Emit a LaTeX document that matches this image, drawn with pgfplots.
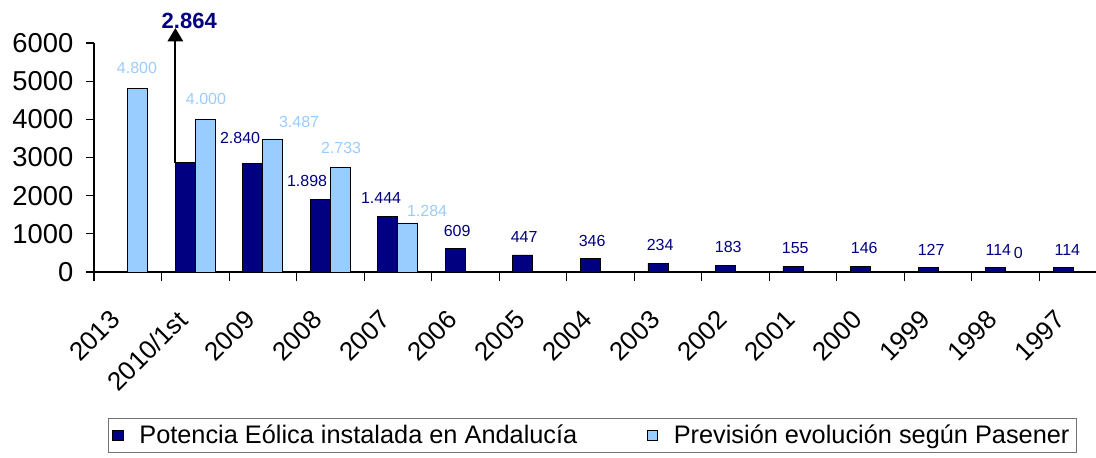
\documentclass[border=0pt]{standalone}
\usepackage{fontspec}
\setmainfont{Liberation Sans}
\usepackage{pgfplots}
\pgfplotsset{compat=1.18}
\usetikzlibrary{arrows.meta}
\definecolor{darkbar}{HTML}{000080}
\definecolor{lightbar}{HTML}{99CCFF}
\begin{document}
\begin{tikzpicture}
\useasboundingbox (-70.5pt,-138.75pt) rectangle (751.5pt,204pt);
\begin{axis}[
  at={(0pt,0pt)}, anchor=south west,
  scale only axis, width=751.5pt, height=171.75pt,
  xmin=-0.5, xmax=14.34, ymin=0, ymax=6000,
  clip=false,
  axis x line=bottom, axis y line=left,
  axis line style={-, line width=0.8pt},
  ybar=0pt, bar width=15pt,
  xtick={0,...,14},
  xticklabels={2013,2010/1st,2009,2008,2007,2006,2005,2004,2003,2002,2001,2000,1999,1998,1997},
  minor xtick={-0.5,0.5,...,13.5},
  ytick={0,1000,2000,3000,4000,5000,6000},
  scaled y ticks=false,
  tick align=outside,
  major tick length=6pt, minor tick length=6.75pt,
  every tick/.style={black, line width=0.8pt},
  major x tick style={draw=none},
  /pgf/number format/assume math mode=true,
  /pgf/number format/1000 sep={},
  yticklabel style={font=\fontsize{20.5}{21}\selectfont, xshift=-6pt},
  xticklabel style={font=\fontsize{19.5}{20}\selectfont, xshift=-7pt, yshift=-24pt, rotate=45, anchor=east},
  legend columns=2,
  legend style={at={(0.014,-0.6376)}, anchor=north west, draw=black!55,
    font=\fontsize{19}{21}\selectfont, inner sep=3pt,
    /tikz/every even column/.append style={column sep=50pt}},
  legend cell align=left,
  legend image code/.code={\draw[#1, draw=black, line width=0.6pt] (0pt,-4pt) rectangle (8pt,4pt); \path[draw=none, fill=none] (0pt,0pt) rectangle (18pt,0pt);},
]
\addplot[fill=darkbar, draw=black, line width=0.6pt] coordinates {
  (1,2864) (2,2840) (3,1898) (4,1444) (5,609) (6,447) (7,346) (8,234)
  (9,183) (10,155) (11,146) (12,127) (13,114) (14,114)};
\addplot[fill=lightbar, draw=black, line width=0.6pt] coordinates {
  (0,4800) (1,4000) (2,3487) (3,2733) (4,1284)};
\legend{Potencia Eólica instalada en Andalucía, Previsión evolución según Pasener}

\begin{scope}[every node/.style={font=\fontsize{12}{13}\selectfont, inner sep=0pt}]
\node[text=lightbar] at (axis cs:0.137,5345) {4.800};
\node[text=lightbar] at (axis cs:1.159,4533) {4.000};
\node[text=lightbar] at (axis cs:2.537,3930) {3.487};
\node[text=lightbar] at (axis cs:3.159,3249) {2.733};
\node[text=lightbar] at (axis cs:4.433,1598) {1.284};
\node[text=darkbar] at (axis cs:13.189,498) {0};
\node[text=darkbar] at (axis cs:1.663,3511) {2.840};
\node[text=darkbar] at (axis cs:2.656,2384) {1.898};
\node[text=darkbar] at (axis cs:3.752,1939) {1.444};
\node[text=darkbar] at (axis cs:4.878,1074) {609};
\node[text=darkbar] at (axis cs:5.870,917) {447};
\node[text=darkbar] at (axis cs:6.878,812) {346};
\node[text=darkbar] at (axis cs:7.885,707) {234};
\node[text=darkbar] at (axis cs:8.893,655) {183};
\node[text=darkbar] at (axis cs:9.885,629) {155};
\node[text=darkbar] at (axis cs:10.907,629) {146};
\node[text=darkbar] at (axis cs:11.899,576) {127};
\node[text=darkbar] at (axis cs:12.893,576) {114};
\node[text=darkbar] at (axis cs:13.915,576) {114};
\end{scope}
\draw[line width=1.5pt, -{Triangle[width=11.5pt,length=10pt]}] (axis cs:0.705,2864) -- (axis cs:0.705,6393);
\node[font=\bfseries\fontsize{16.5}{17}\selectfont, text=darkbar, inner sep=0pt] at (axis cs:0.911,6576) {2.864};
\end{axis}
\end{tikzpicture}
\end{document}
